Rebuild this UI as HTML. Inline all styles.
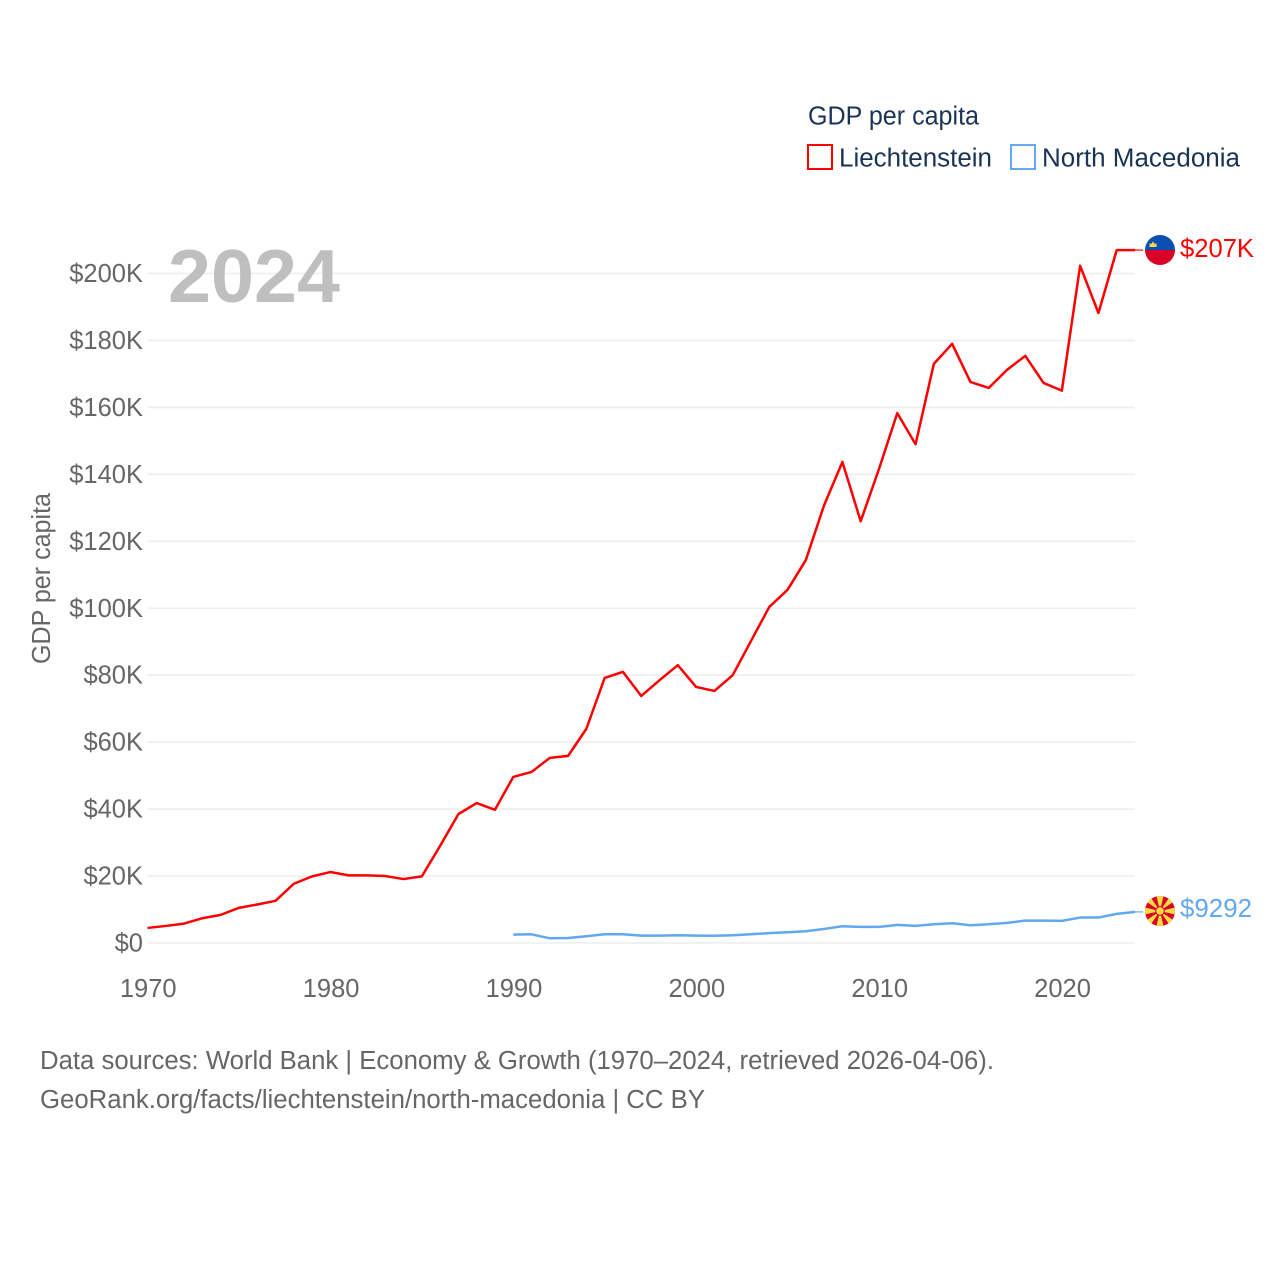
<!DOCTYPE html>
<html lang="en">
<head>
<meta charset="utf-8">
<title>GDP per capita: Liechtenstein and North Macedonia</title>
<style>
html,body{margin:0;padding:0;background:#fff}
svg{display:block}
text{font-family:"Liberation Sans",sans-serif;font-size:25.5px}
</style>
</head>
<body>
<svg id="chart" xmlns="http://www.w3.org/2000/svg" width="1280" height="1280" viewBox="0 0 1280 1280">
  <rect width="1280" height="1280" fill="#fff"/>
  <g id="grid"></g>
  <g id="yticks"></g>
  <g id="xticks"></g>
  <text x="168" y="302" textLength="172" lengthAdjust="spacingAndGlyphs" style="font-size:75px;font-weight:700" fill="#bfbfbf">2024</text>
  <text transform="translate(50,578.5) rotate(-90)" text-anchor="middle" textLength="171" lengthAdjust="spacingAndGlyphs" fill="#666">GDP per capita</text>

  <g>
    <text x="808" y="124.500" textLength="171" lengthAdjust="spacingAndGlyphs" fill="#1a3354">GDP per capita</text>
    <rect x="808" y="145" width="24" height="24" fill="#fff" stroke="#ff0000" stroke-width="2"/>
    <text x="839" y="166.500" textLength="153" lengthAdjust="spacingAndGlyphs" fill="#1a3354">Liechtenstein</text>
    <rect x="1011" y="145" width="24" height="24" fill="#fff" stroke="#61a8f0" stroke-width="2"/>
    <text x="1042" y="166.500" textLength="198" lengthAdjust="spacingAndGlyphs" fill="#1a3354">North Macedonia</text>
  </g>

  <g id="series"></g>

  <g>
    <clipPath id="clip-li"><circle cx="1160" cy="250" r="15"/></clipPath>
    <g clip-path="url(#clip-li)">
      <rect x="1145" y="235" width="30" height="15" fill="#0b4fb3"/>
      <rect x="1145" y="250" width="30" height="15" fill="#d80027"/>
      <path d="M1149.500 247 v-4 l1.500 1.200 l2-2.700 l2 2.700 l1.500-1.200 v4 z" fill="#ffda44"/>
    </g>
  </g>
  <text x="1180" y="257" textLength="74" lengthAdjust="spacingAndGlyphs" fill="#ff0000">$207K</text>

  <g>
    <clipPath id="clip-mk"><circle cx="1160" cy="911" r="15"/></clipPath>
    <g clip-path="url(#clip-mk)">
      <rect x="1145" y="896" width="30" height="30" fill="#d80027"/>
      <path d="M1160 911 L1156 894 L1164 894 Z M1160 911 L1156 928 L1164 928 Z M1160 911 L1143 907 L1143 915 Z M1160 911 L1177 907 L1177 915 Z M1160 911 L1144 900 L1149 895 Z M1160 911 L1176 900 L1171 895 Z M1160 911 L1144 922 L1149 927 Z M1160 911 L1176 922 L1171 927 Z" fill="#ffda44"/>
      <circle cx="1160" cy="911" r="4.800" fill="#d80027"/>
      <circle cx="1160" cy="911" r="3.800" fill="#ffda44"/>
    </g>
  </g>
  <text x="1180" y="917" textLength="72" lengthAdjust="spacingAndGlyphs" fill="#61a8f0">$9292</text>

  <text x="40" y="1069" textLength="954" lengthAdjust="spacingAndGlyphs" fill="#666">Data sources: World Bank | Economy &amp; Growth (1970–2024, retrieved 2026-04-06).</text>
  <text x="40" y="1108" textLength="665" lengthAdjust="spacingAndGlyphs" fill="#666">GeoRank.org/facts/liechtenstein/north-macedonia | CC BY</text>
</svg>
<script>
const yTicks = [0, 20, 40, 60, 80, 100, 120, 140, 160, 180, 200];
const yTickLabels = ['$0', '$20K', '$40K', '$60K', '$80K', '$100K', '$120K', '$140K', '$160K', '$180K', '$200K'];
const xTicks = [1970, 1980, 1990, 2000, 2010, 2020];
const xTickLabels = ['1970', '1980', '1990', '2000', '2010', '2020'];
const liechtensteinStartYear = 1970;
const liechtensteinValues = [4.5, 5.1, 5.8, 7.4, 8.4, 10.5, 11.5, 12.6, 17.7, 19.9, 21.2, 20.2, 20.2, 20.0, 19.1, 19.9, 29.0, 38.5, 41.8, 39.8, 49.6, 51.1, 55.3, 55.9, 64.0, 79.2, 81.0, 73.8, 78.5, 83.0, 76.5, 75.3, 80.0, 90.2, 100.4, 105.5, 114.4, 130.8, 143.7, 126.0, 141.6, 158.3, 149.0, 173.0, 179.0, 167.6, 165.8, 171.2, 175.4, 167.3, 165.0, 202.3, 188.2, 207.0, 207.0];
const macedoniaStartYear = 1990;
const macedoniaValues = [2.5, 2.6, 1.4, 1.5, 2.0, 2.6, 2.6, 2.2, 2.2, 2.3, 2.2, 2.15, 2.3, 2.6, 2.95, 3.2, 3.5, 4.2, 5.0, 4.8, 4.8, 5.4, 5.1, 5.6, 5.9, 5.3, 5.6, 6.0, 6.7, 6.7, 6.6, 7.6, 7.6, 8.7, 9.292];

const NS = 'http://www.w3.org/2000/svg';
const xLeft = 147.5, xRight = 1135, yearMin = 1970, yearMax = 2024;
const yZero = 943, yTop = 273.5, valueTop = 200;
function xScale(year) {
  return xLeft + (year - yearMin) * (xRight - xLeft) / (yearMax - yearMin);
}
function yScale(value) {
  return yZero - value * (yZero - yTop) / valueTop;
}
function make(tag, attrs) {
  const el = document.createElementNS(NS, tag);
  for (const k in attrs) el.setAttribute(k, attrs[k]);
  return el;
}
const grid = document.getElementById('grid');
const yGroup = document.getElementById('yticks');
const xGroup = document.getElementById('xticks');
const series = document.getElementById('series');

yTicks.forEach(function (v, i) {
  const line = make('line', {x1: xLeft, x2: xRight, y1: yScale(v), y2: yScale(v), stroke: '#eeeeee', 'stroke-width': 1.6});
  
  
  grid.appendChild(line);
  const label = make('text', {x: 143, y: yScale(v) + 8.5, 'text-anchor': 'end', fill: '#666'});
  
  
  label.textContent = yTickLabels[i];
  yGroup.appendChild(label);
});

xTicks.forEach(function (year, i) {
  const label = make('text', {x: xScale(year) + 0.7, y: 997, 'text-anchor': 'middle', fill: '#666'});
  
  
  label.textContent = xTickLabels[i];
  xGroup.appendChild(label);
});

function drawSeries(values, startYear, color, name) {
  const pts = values.map(function (v, i) {
    return xScale(startYear + i).toFixed(2) + ',' + yScale(v).toFixed(2);
  });
  const last = values[values.length - 1];
  const path = make('polyline', {points: pts.join(' '), fill: 'none', stroke: color, 'stroke-width': 2.5, 'stroke-linejoin': 'round'});
  
  
  series.appendChild(path);
  const connector = make('line', {x1: xScale(yearMax), x2: 1143, y1: yScale(last), y2: yScale(last), stroke: color, 'stroke-width': 1.2});
  
  
  series.appendChild(connector);
}
drawSeries(liechtensteinValues, liechtensteinStartYear, '#ff0000', 'line-liechtenstein');
drawSeries(macedoniaValues, macedoniaStartYear, '#61a8f0', 'line-north-macedonia');
</script>
</body>
</html>
